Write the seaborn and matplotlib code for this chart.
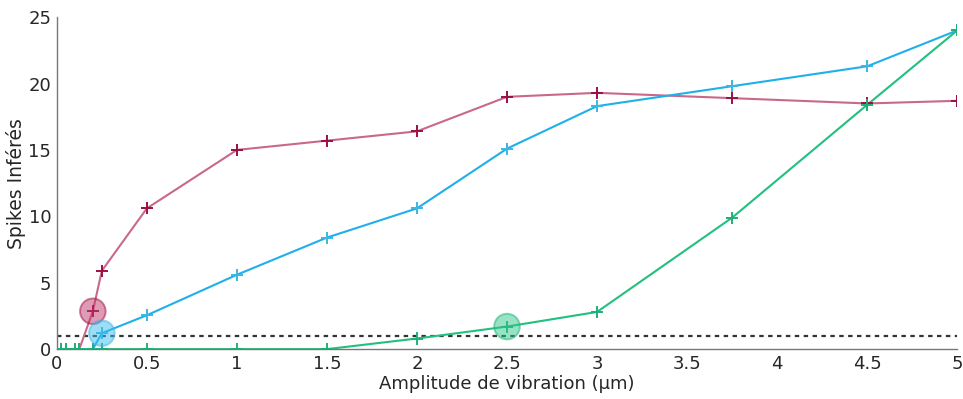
import numpy as np
import pandas as pd
import matplotlib.pyplot as plt
import seaborn as sns

# amplitudes (um)
amp = [0.025, 0.05, 0.1, 0.125, 0.2, 0.25, 0.5, 1, 1.5, 2, 2.5, 3, 3.75, 4.5, 5]

red = [0, 0, 0, 0, 2.85, 5.9, 10.6, 15.0, 15.7, 16.4, 19.0, 19.3, 18.9, 18.5, 18.7]
blue = [0, 0, 0, 0, 0, 1.2, 2.55, 5.6, 8.4, 10.6, 15.1, 18.3, 19.8, 21.3, 24.0]
green = [0, 0, 0, 0, 0, 0, 0, 0, 0, 0.8, 1.7, 2.8, 9.9, 18.4, 24.0]

# threshold points (circled)
thr_series = ['red', 'blue', 'green']
thr_x = [0.2, 0.25, 2.5]
thr_y = [2.85, 1.2, 1.7]

threshold = 1

df = pd.DataFrame({
    'amp': amp * 3,
    'spikes': red + blue + green,
    'serie': ['red'] * len(amp) + ['blue'] * len(amp) + ['green'] * len(amp),
})
thr = pd.DataFrame({'amp': thr_x, 'spikes': thr_y, 'serie': thr_series})

line_pal = {'red': '#c8688c', 'blue': '#1fb0ea', 'green': '#22c07e'}
mark_pal = {'red': '#9c0f45', 'blue': '#3cb6e3', 'green': '#1fb07a'}
fill_pal = {'red': '#c0386a', 'blue': '#3cbcec', 'green': '#30c88a'}

sns.set_style("white")
plt.rcParams['font.family'] = ['DejaVu Sans']

fig, ax = plt.subplots(figsize=(9.63, 3.99), dpi=100)
fig.subplots_adjust(left=0.059, right=0.994, top=0.957, bottom=0.125)

ax.axhline(threshold, color='#333333', ls=(0, (2, 2)), lw=1.6, zorder=1)

sns.lineplot(data=df, x='amp', y='spikes', hue='serie', palette=line_pal,
             lw=1.5, legend=False, ax=ax, zorder=2)
sns.scatterplot(data=df, x='amp', y='spikes', hue='serie', palette=mark_pal,
                marker='+', s=75, linewidth=1.4, legend=False, ax=ax, zorder=3)
sns.scatterplot(data=thr, x='amp', y='spikes', hue='serie', palette=fill_pal,
                s=340, alpha=0.5, linewidth=1.4, edgecolor=[mark_pal[k] for k in thr_series],
                legend=False, ax=ax, zorder=4)

ax.set_xlim(0, 5)
ax.set_ylim(0, 25)
ax.set_xticks([0, 0.5, 1, 1.5, 2, 2.5, 3, 3.5, 4, 4.5, 5])
ax.set_xticklabels(['0', '0.5', '1', '1.5', '2', '2.5', '3', '3.5', '4', '4.5', '5'])
ax.set_yticks([0, 5, 10, 15, 20, 25])
ax.tick_params(direction='in', length=5, width=1, color='#aaaaaa',
               labelsize=13, labelcolor='#262626', pad=4)
ax.set_xlabel('Amplitude de vibration (µm)', fontsize=13, color='#262626', labelpad=2)
ax.set_ylabel('Spikes Inférés', fontsize=13.5, color='#262626')
ax.yaxis.set_label_coords(-0.034, 0.5)

sns.despine(ax=ax)
for s in ['left', 'bottom']:
    ax.spines[s].set_color('#777777')
    ax.spines[s].set_linewidth(1)

fig.savefig('out.png', dpi=100)
